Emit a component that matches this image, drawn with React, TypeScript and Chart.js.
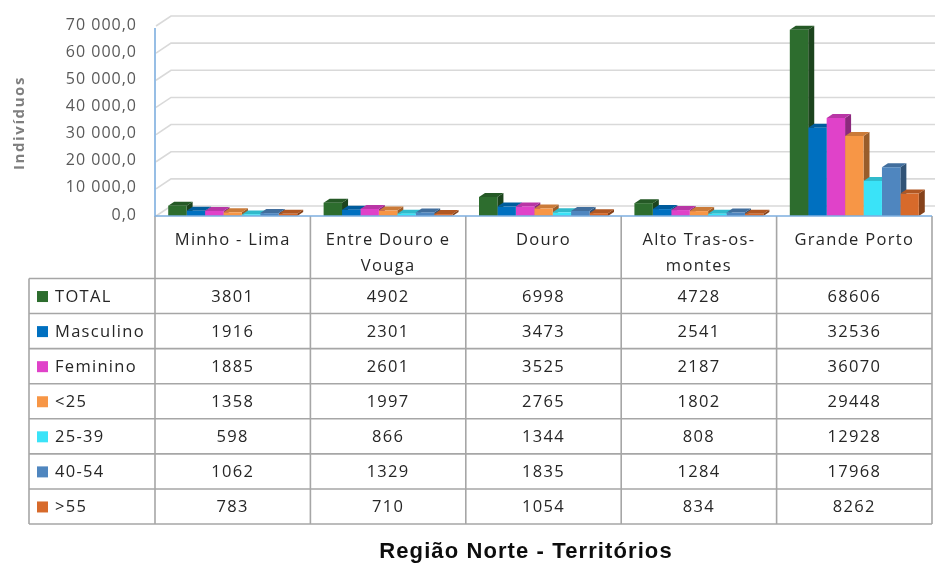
import React, { useEffect, useRef } from "react";
import { Chart, registerables } from "chart.js";

Chart.register(...registerables);

const categories: string[][] = [
  ["Minho - Lima"],
  ["Entre Douro e", "Vouga"],
  ["Douro"],
  ["Alto Tras-os-", "montes"],
  ["Grande Porto"],
];
const seriesNames = ["TOTAL", "Masculino", "Feminino", "<25", "25-39", "40-54", ">55"];
const total = [3801, 4902, 6998, 4728, 68606];
const masculino = [1916, 2301, 3473, 2541, 32536];
const feminino = [1885, 2601, 3525, 2187, 36070];
const under25 = [1358, 1997, 2765, 1802, 29448];
const age25to39 = [598, 866, 1344, 808, 12928];
const age40to54 = [1062, 1329, 1835, 1284, 17968];
const over55 = [783, 710, 1054, 834, 8262];
const seriesValues = [total, masculino, feminino, under25, age25to39, age40to54, over55];
const seriesColors = ["#2d6d2e", "#0070c0", "#e042c9", "#f79646", "#3ae3f8", "#4f86bf", "#d76a2b"];
const yMin = 0;
const yMax = 70000;
const yStep = 10000;
const yTitle = "Indivíduos";
const xTitle = "Região Norte - Territórios";

function shade(hex: string, f: number): string {
  const n = parseInt(hex.slice(1), 16);
  const r = Math.round(((n >> 16) & 255) * f);
  const g = Math.round(((n >> 8) & 255) * f);
  const b = Math.round((n & 255) * f);
  return `rgb(${r},${g},${b})`;
}

function fmtTick(v: number): string {
  const s = Math.round(v).toString().replace(/\B(?=(\d{3})+(?!\d))/g, " ");
  return s + ",0";
}

const DX = 6;
const DY = -4;
const FONT = "'Open Sans', 'Noto Sans', sans-serif";

const bars3d = {
  id: "bars3d",
  beforeDatasetsDraw(chart: any) {
    const ctx = chart.ctx;
    ctx.save();
    chart.data.datasets.forEach((ds: any, i: number) => {
      const meta = chart.getDatasetMeta(i);
      const col = seriesColors[i];
      meta.data.forEach((el: any) => {
        const { x, y, base, width } = el.getProps(["x", "y", "base", "width"], true);
        const l = x - width / 2;
        const r = x + width / 2;
        ctx.fillStyle = shade(col, 0.62);
        ctx.beginPath();
        ctx.moveTo(r, y);
        ctx.lineTo(r + DX, y + DY);
        ctx.lineTo(r + DX, base + DY);
        ctx.lineTo(r, base);
        ctx.closePath();
        ctx.fill();
        ctx.fillStyle = shade(col, 0.82);
        ctx.beginPath();
        ctx.moveTo(l, y);
        ctx.lineTo(l + DX, y + DY);
        ctx.lineTo(r + DX, y + DY);
        ctx.lineTo(r, y);
        ctx.closePath();
        ctx.fill();
      });
    });
    ctx.restore();
  },
};

const backdrop = {
  id: "backdrop",
  beforeDraw(chart: any) {
    const ctx = chart.ctx;
    const ys = chart.scales.y;
    const xs = chart.scales.x;
    ctx.save();
    ctx.fillStyle = "#ffffff";
    ctx.fillRect(0, 0, chart.width, chart.height);
    ctx.strokeStyle = "#d9d9d9";
    ctx.lineWidth = 1.6;
    for (let v = yMin; v <= yMax; v += yStep) {
      const p = ys.getPixelForValue(v);
      ctx.beginPath();
      ctx.moveTo(xs.left + 1, p);
      ctx.lineTo(xs.left + 16, p - 10);
      ctx.lineTo(xs.right + 3, p - 10);
      ctx.stroke();
    }
    ctx.fillStyle = "#595959";
    ctx.font = `16px ${FONT}`;
    (ctx as any).letterSpacing = "1px";
    ctx.textAlign = "right";
    ctx.textBaseline = "middle";
    for (let v = yMin; v <= yMax; v += yStep) {
      const p = ys.getPixelForValue(v);
      ctx.fillText(fmtTick(v), 137, p - 1);
    }
    ctx.save();
    ctx.translate(20, 123);
    ctx.rotate(-Math.PI / 2);
    ctx.font = `bold 15px ${FONT}`;
    (ctx as any).letterSpacing = "1.6px";
    ctx.fillStyle = "#7f7f7f";
    ctx.textAlign = "center";
    ctx.fillText(yTitle, 0, 0);
    ctx.restore();
    ctx.restore();
  },
  afterDraw(chart: any) {
    const ctx = chart.ctx;
    const ys = chart.scales.y;
    const xs = chart.scales.x;
    const left = xs.left;
    const right = xs.right;
    const colW = (right - left) / categories.length;
    const axisY = ys.getPixelForValue(0);
    const headerBottom = 278.5;
    const tableBottom = 524;
    const rowH = (tableBottom - headerBottom) / seriesNames.length;
    const legendLeft = 29;
    ctx.save();
    ctx.strokeStyle = "#a6a6a6";
    ctx.lineWidth = 1.6;
    for (let k = 0; k <= categories.length; k++) {
      const xx = left + k * colW;
      ctx.beginPath();
      ctx.moveTo(xx, axisY);
      ctx.lineTo(xx, tableBottom);
      ctx.stroke();
    }
    ctx.beginPath();
    ctx.moveTo(legendLeft, headerBottom);
    ctx.lineTo(legendLeft, tableBottom);
    ctx.stroke();
    for (let k = 0; k <= seriesNames.length; k++) {
      const yy = headerBottom + k * rowH;
      ctx.beginPath();
      ctx.moveTo(legendLeft, yy);
      ctx.lineTo(right, yy);
      ctx.stroke();
    }
    ctx.strokeStyle = "#7eaedf";
    ctx.lineWidth = 1.6;
    ctx.beginPath();
    ctx.moveTo(left, ys.getPixelForValue(yMax) + 2);
    ctx.lineTo(left, axisY);
    ctx.lineTo(right, axisY);
    ctx.stroke();
    ctx.fillStyle = "#262626";
    ctx.font = `16.5px ${FONT}`;
    (ctx as any).letterSpacing = "1.3px";
    ctx.textAlign = "center";
    ctx.textBaseline = "middle";
    categories.forEach((lines, i) => {
      const cx = left + (i + 0.5) * colW;
      lines.forEach((ln, j) => ctx.fillText(ln, cx, 240 + j * 26));
    });
    seriesValues.forEach((vals, r) => {
      const cy = headerBottom + (r + 0.5) * rowH;
      vals.forEach((v, i) => {
        ctx.textAlign = "center";
        ctx.fillText(String(v), left + (i + 0.5) * colW, cy + 1);
      });
      ctx.fillStyle = seriesColors[r];
      ctx.fillRect(37, cy - 5, 11, 11);
      ctx.fillStyle = "#262626";
      ctx.textAlign = "left";
      ctx.fillText(seriesNames[r], 55, cy + 1);
    });
    ctx.font = `bold 22px 'Liberation Sans', Arial, sans-serif`;
    (ctx as any).letterSpacing = "1.1px";
    ctx.fillStyle = "#0d0d0d";
    ctx.textAlign = "center";
    ctx.fillText(xTitle, 526, 552);
    ctx.restore();
  },
};

export default function App() {
  const ref = useRef<HTMLCanvasElement | null>(null);
  useEffect(() => {
    document.body.style.margin = "0";
    const canvas = ref.current!;
    const chart = new Chart(canvas, {
      type: "bar",
      data: {
        labels: categories.map((c) => c.join(" ")),
        datasets: seriesNames.map((name, i) => ({
          label: name,
          data: seriesValues[i],
          backgroundColor: seriesColors[i],
          borderWidth: 0,
          categoryPercentage: 0.83,
          barPercentage: 1.0,
        })),
      },
      options: {
        animation: false,
        responsive: false,
        devicePixelRatio: 1,
        layout: { padding: { top: 26, bottom: 563 - 216, right: 7, left: 0 } },
        plugins: { legend: { display: false }, tooltip: { enabled: false }, title: { display: false } },
        scales: {
          x: { display: false },
          y: {
            min: yMin,
            max: yMax,
            ticks: { display: false, stepSize: yStep },
            grid: { display: false },
            border: { display: false },
            afterFit: (axis: any) => {
              axis.width = 155;
            },
          },
        },
      },
      plugins: [backdrop, bars3d],
    });
    return () => chart.destroy();
  }, []);
  return (
    <div style={{ width: 939, height: 563 }}>
      <canvas ref={ref} width={939} height={563} />
    </div>
  );
}
